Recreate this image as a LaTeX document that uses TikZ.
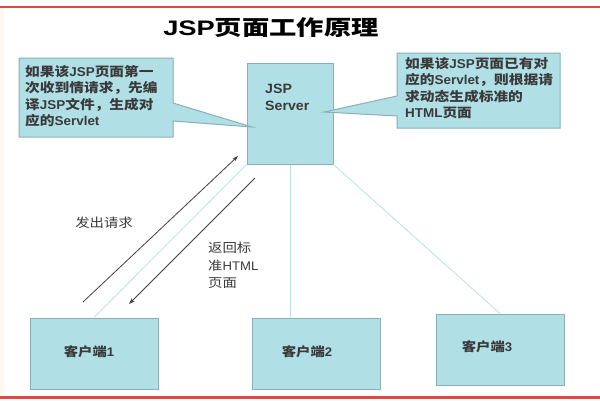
\documentclass[tikz,border=0pt]{standalone}
\usepackage{fontspec}
\setmainfont[FakeStretch=1.15]{Noto Sans CJK SC}
\newfontfamily\titlefont[FakeStretch=1.3]{Noto Sans CJK SC}
\newfontfamily\titlelat[FakeStretch=1.3]{Liberation Sans}
\newfontfamily\latfont[FakeStretch=1.05]{Liberation Sans}
\newcommand\LT[1]{{\latfont #1}}
\usetikzlibrary{arrows.meta}
\definecolor{boxfill}{HTML}{B0E0E6}
\definecolor{boxline}{HTML}{8AAFB4}
\definecolor{linkline}{HTML}{BFE3E3}
\definecolor{redline}{HTML}{E04848}
\definecolor{txt}{HTML}{3A3A3A}
\tikzset{
  box/.style={draw=boxline, fill=boxfill, line width=1pt, inner sep=0pt},
  callout/.style={draw=boxline, fill=boxfill, line width=1pt},
  link/.style={draw=linkline, line width=0.9pt},
  flow/.style={draw=black!75, line width=0.8pt, -{Stealth[length=6pt,width=4pt]}},
  ctext/.style={inner sep=0pt, anchor=north west, align=left, text=txt,
    font=\fontsize{12.8pt}{16.5pt}\selectfont\bfseries},
  stext/.style={inner sep=0pt, anchor=north west, align=left, text=txt,
    font=\fontsize{13.5pt}{16.5pt}\selectfont\bfseries},
  cltext/.style={inner sep=0pt, text=txt, font=\fontsize{12.5pt}{15pt}\selectfont\bfseries},
  atext/.style={inner sep=0pt, align=left, text=txt, font=\fontsize{12.5pt}{17.5pt}\selectfont},
}
\begin{document}
\begin{tikzpicture}[x=1pt,y=-1pt]
\useasboundingbox (0,0) rectangle (600,400);
\fill[white] (0,0) rectangle (600,400);
\fill[orange!6] (0,8) rectangle (4,395);
% red rules
\draw[redline, line width=1.2pt] (0,7) -- (600,7);
\draw[redline, line width=3pt] (0,397) -- (600,397);
% title
\node[inner sep=0pt, font=\titlefont\fontsize{21pt}{24pt}\selectfont\bfseries] (title) at (271,28) {{\titlelat JSP}页面工作原理};
% server and clients
\node[box, minimum width=86pt, minimum height=101pt] (srv) at (290,113.5) {};
\node[box, minimum width=128pt, minimum height=71pt] (c1) at (94,353.5) {};
\node[box, minimum width=128pt, minimum height=71pt] (c2) at (316,353.5) {};
\node[box, minimum width=128pt, minimum height=71pt] (c3) at (500,349.5) {};
% links
\draw[link] (srv.south west) -- (c1.north);
\draw[link] (srv.south) -- (srv.south |- c2.north);
\draw[link] (srv.south east) -- (c3.north);
% texts
\node[stext] (srvtext) at (265,84) {\LT{JSP}\\\LT{Server}};
\node[cltext] (c1text) at (89,352) {客户端\LT{1}};
\node[cltext] (c2text) at (307,352) {客户端\LT{2}};
\node[cltext] (c3text) at (487,347) {客户端\LT{3}};
% request / response arrows
\coordinate (reqS) at (83,302);
\coordinate (reqE) at (238,156);
\coordinate (resS) at (255,178);
\coordinate (resE) at (129,304);
\draw[flow] (reqS) -- (reqE);
\draw[flow] (resS) -- (resE);
\node[atext] (reqtext) at (104,223) {发出请求};
\node[atext, anchor=north west] (restext) at (208,242) {返回标\\准\LT{HTML}\\页面};
% callouts
\draw[callout] (19,58) -- (173,58) -- (173,103) -- (252,127) -- (173,121) -- (173,137) -- (19,137) -- cycle;
\node[ctext] (lnote) at (25,65) {如果该\LT{JSP}页面第一\\次收到情请求，先编\\译\LT{JSP}文件，生成对\\应的\LT{Servlet}};
\draw[callout] (397,53) -- (560,53) -- (560,128) -- (397,128) -- (397,116) -- (324,112) -- (397,96) -- cycle;
\node[ctext] (rnote) at (405,57) {如果该\LT{JSP}页面已有对\\应的\LT{Servlet}，则根据请\\求动态生成标准的\\\LT{HTML}页面};
\end{tikzpicture}
\end{document}
